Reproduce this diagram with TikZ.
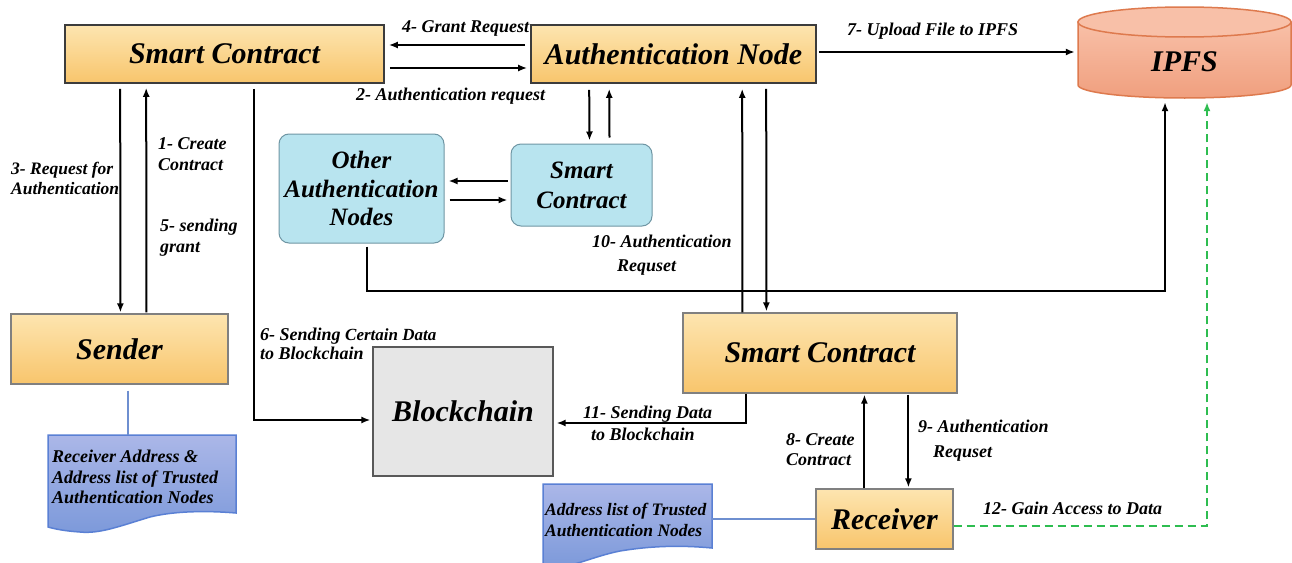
\documentclass[tikz,border=0pt]{standalone}
\usepackage{fontspec}
\setmainfont{Liberation Serif}
\usetikzlibrary{arrows.meta}
\definecolor{orTop}{HTML}{FDE5B0}
\definecolor{orBot}{HTML}{F8C56C}
\definecolor{orLine}{HTML}{3C3C3C}
\definecolor{skyFill}{HTML}{B8E4EF}
\definecolor{skyLine}{HTML}{6F96A4}
\definecolor{docTop}{HTML}{ABB7E8}
\definecolor{docBot}{HTML}{7C99DA}
\definecolor{docLine}{HTML}{5A80D4}
\definecolor{linkBlue}{HTML}{6E8FD0}
\definecolor{ipfsTop}{HTML}{F8C0A8}
\definecolor{ipfsBot}{HTML}{F09F7E}
\definecolor{ipfsLine}{HTML}{DE7A4E}
\definecolor{chainFill}{HTML}{E6E6E6}
\definecolor{accessGreen}{HTML}{2EBD50}
\begin{document}
\begin{tikzpicture}[x=1pt,y=-1pt,
  bigfont/.style={font=\bfseries\itshape\fontsize{30}{34}\selectfont},
  orangebox/.style={bigfont, draw=orLine, line width=1.6pt, top color=orTop, bottom color=orBot, inner sep=0pt},
  skybox/.style={draw=skyLine, line width=1pt, fill=skyFill, rounded corners=10pt, inner sep=0pt, align=center},
  lbl/.style={inner sep=0pt, anchor=west, align=left, font=\bfseries\itshape\fontsize{18}{21}\selectfont},
  doctext/.style={inner sep=0pt, anchor=west, align=left, font=\bfseries\itshape\fontsize{18}{20.5}\selectfont},
  docshape/.style={draw=docLine, line width=1.5pt, top color=docTop, bottom color=docBot},
  arr/.style={-{Latex[length=9pt,width=7pt]}, line width=2pt, black},
  link/.style={linkBlue, line width=1.5pt},
  ghost/.style={inner sep=0pt}
]
\useasboundingbox (0,0) rectangle (1292,562);
\fill[white] (0,0) rectangle (1292,562);
\clip (0,0) rectangle (1292,562);

% IPFS storage cylinder
\path[draw=ipfsLine, line width=1.5pt, top color=ipfsTop, bottom color=ipfsBot]
  (1078,22) -- (1078,85) .. controls (1078,92.2) and (1125.7,98) .. (1184.5,98)
  .. controls (1243.3,98) and (1291,92.2) .. (1291,85) -- (1291,22) -- cycle;
\draw[ipfsLine, line width=1.5pt, fill=ipfsTop] (1184.5,22) ellipse [x radius=106.5, y radius=15];
\node[bigfont, ghost, minimum width=213pt, minimum height=76pt] (ipfs) at (1184.5,62) {IPFS};

% document shapes
\path[docshape] (48,435) -- (236,435) -- (236,513)
  .. controls (200,510) and (170,512) .. (150,517)
  .. controls (120,526) and (100,534) .. (80,532)
  .. controls (65,531) and (55,529) .. (48,527) -- cycle;
\path[docshape] (543,484) -- (712,484) -- (712,548)
  .. controls (680,545) and (650,546) .. (620,551)
  .. controls (595,556) and (575,566) .. (555,568) -- (543,567) -- cycle;
\node[ghost, minimum width=188pt, minimum height=95pt] (doc1) at (142,482.5) {};
\node[ghost, minimum width=169pt, minimum height=78pt] (doc2) at (627.5,523) {};
\node[doctext] (doc1text) at (52,477) {Receiver Address \&\\Address list of Trusted\\Authentication Nodes};
\node[doctext, font=\bfseries\itshape\fontsize{17.5}{21}\selectfont] (doc2text) at (545,519.5) {Address list of Trusted\\Authentication Nodes};

% main boxes
\node[orangebox, minimum width=319pt, minimum height=58pt] (sc1) at (224.5,54) {Smart Contract};
\node[orangebox, minimum width=285pt, minimum height=58pt] (auth) at (673.5,54) {Authentication Node};
\node[orangebox, draw=gray, line width=1.2pt, minimum width=217pt, minimum height=70pt] (sender) at (119.5,349) {Sender};
\node[orangebox, draw=gray, line width=1.2pt, minimum width=274pt, minimum height=80pt] (sc3) at (820,353) {Smart Contract};
\node[orangebox, draw=gray, line width=1.2pt, minimum width=137pt, minimum height=60pt] (recv) at (884.5,519) {Receiver};
\node[skybox, font=\bfseries\itshape\fontsize{25}{28.5}\selectfont, minimum width=165pt, minimum height=109pt] (other) at (361.5,188.5) {Other\\Authentication\\Nodes};
\node[skybox, font=\bfseries\itshape\fontsize{25}{30}\selectfont, minimum width=141pt, minimum height=82pt] (sc2) at (581.5,185) {Smart\\Contract};
\node[bigfont, draw=gray!70!black, line width=1.2pt, fill=chainFill, minimum width=180pt, minimum height=129pt] (chain) at (463,411.5) {Blockchain};

% links to the address lists
\draw[link] ([xshift=8.5pt,yshift=-6pt]sender.south) -- ([xshift=8.5pt]sender.south |- doc1.north);
\draw[link] (recv.west) -- (recv.west -| doc2.east);

% message flow
\draw[arr] ([xshift=56pt,yshift=-5pt]sc1.south west) -- ([xshift=110pt,yshift=1pt]sender.north west);
\draw[arr] ([xshift=136pt,yshift=1pt]sender.north west) -- ([xshift=82pt,yshift=-4pt]sc1.south west);
\draw[arr] ([xshift=190pt,yshift=-5pt]sc1.south west) |- ([xshift=-2pt,yshift=-8.5pt]chain.west);
\draw[arr] ([xshift=-5pt,yshift=9pt]auth.west) -- ([xshift=4pt,yshift=9pt]sc1.east);
\draw[arr] ([xshift=5pt,yshift=-14pt]sc1.east) -- ([xshift=-3pt,yshift=-14pt]auth.west);
\draw[arr] ([xshift=2pt,yshift=2pt]auth.east) -- ([xshift=-3pt,yshift=10pt]ipfs.west);
\draw[arr] ([xshift=59pt,yshift=-6pt]auth.south west) -- ([xshift=79pt,yshift=3pt]sc2.north west);
\draw[arr] ([xshift=99pt,yshift=6pt]sc2.north west) -- ([xshift=79pt,yshift=-5pt]auth.south west);
\draw[arr] ([xshift=-3pt,yshift=4pt]sc2.west) -- ([xshift=4pt,yshift=7.5pt]other.east);
\draw[arr] ([xshift=5pt,yshift=-11.5pt]other.east) -- ([xshift=-3pt,yshift=-15pt]sc2.west);
\coordinate (j10) at (1165,291);
\draw[arr] ([xshift=5.5pt,yshift=-3pt]other.south) |- (j10) -- ([xshift=-19.5pt,yshift=-2pt]ipfs.south);
\draw[arr] ([xshift=60pt]sc3.north west) -- ([xshift=212pt,yshift=-5pt]auth.south west);
\draw[arr] ([xshift=236pt,yshift=-5pt]auth.south west) -- ([xshift=84pt,yshift=1pt]sc3.north west);
\draw[arr] ([xshift=64pt]sc3.south west) |- ([xshift=3pt,yshift=-11.5pt]chain.east);
\draw[arr] ([xshift=49pt]recv.north west) -- ([xshift=182pt,yshift=-1pt]sc3.south west);
\draw[arr] ([xshift=226pt,yshift=-1pt]sc3.south west) -- ([xshift=93pt,yshift=1pt]recv.north west);
\draw[arr, accessGreen, line width=1.8pt, dash pattern=on 8pt off 5pt] ([yshift=-7pt]recv.east) -| ([xshift=22.5pt,yshift=-2pt]ipfs.south);

% step labels
\node[lbl] (l4) at (402,28) {4- Grant Request};
\node[lbl] (l2) at (356,96) {2- Authentication request};
\node[lbl] (l7) at (847,31) {7- Upload File to IPFS};
\node[lbl, font=\bfseries\itshape\fontsize{17.5}{20}\selectfont] (l3) at (11,178) {3- Request for\\Authentication};
\node[lbl] (l1) at (158,154.5) {1- Create\\Contract};
\node[lbl] (l5) at (160,238) {5- sending\\grant};
\node[lbl, font=\bfseries\itshape\fontsize{18}{24}\selectfont] (l10) at (592,255) {10- Authentication\\\hspace*{25pt}Requset};
\node[lbl, font=\bfseries\itshape\fontsize{18}{19}\selectfont] (l6) at (260,344) {6- Sending {\fontsize{17}{19}\selectfont Certain Data}\\to Blockchain};
\node[lbl, font=\bfseries\itshape\fontsize{18}{22}\selectfont] (l11) at (583,423) {11- Sending Data\\\hspace*{8pt}to Blockchain};
\node[lbl, font=\bfseries\itshape\fontsize{18}{20}\selectfont] (l8) at (786,450) {8- Create\\Contract};
\node[lbl, font=\bfseries\itshape\fontsize{18}{25}\selectfont] (l9) at (918,440.5) {9- Authentication\\\hspace*{15pt}Requset};
\node[lbl] (l12) at (983,508) {12- Gain Access to Data};
\end{tikzpicture}
\end{document}
